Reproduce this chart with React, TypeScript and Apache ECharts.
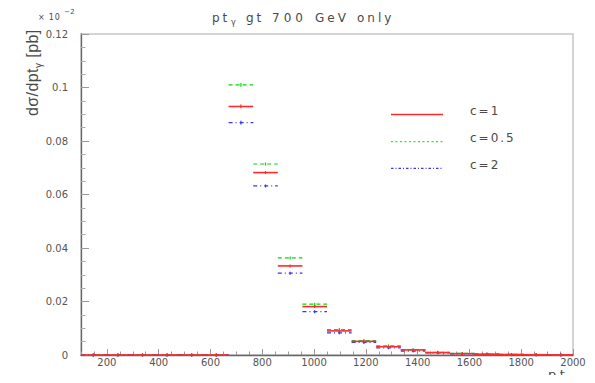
import React, { useEffect, useRef } from "react";
import * as echarts from "echarts";

// Histogram bins: lower edges (GeV), every bin is 95 GeV wide
const binLow = [100, 195, 290, 385, 480, 575, 670, 765, 860, 955, 1050, 1145, 1240, 1335, 1430, 1525, 1620, 1715, 1810, 1905];
const binWidth = 95;

// dσ/dpt_γ [pb] (×10^-2) for the three scale choices
const c1Values = [0, 0, 0, 0, 0, 0, 0.0929, 0.0682, 0.0333, 0.0181, 0.009, 0.0051, 0.0031, 0.0019, 0.0009, 0.0005, 0.0003, 0.0002, 0.0001, 0.00005];
const c05Values = [0, 0, 0, 0, 0, 0, 0.101, 0.0714, 0.0363, 0.019, 0.0095, 0.0054, 0.0034, 0.002, 0.001, 0.0006, 0.0003, 0.0002, 0.0001, 0.00006];
const c2Values = [0, 0, 0, 0, 0, 0, 0.0869, 0.0632, 0.0306, 0.0162, 0.0083, 0.0047, 0.0027, 0.0015, 0.0008, 0.0004, 0.0003, 0.0001, 0.0001, 0.00004];

// statistical errors
const c1Errors = [0, 0, 0, 0, 0, 0, 0.0007, 0.0005, 0.0003, 0.0002, 0.00015, 0.0001, 0.0001, 0.00005, 0.00004, 0.00003, 0.00002, 0.00002, 0.00001, 0.00001];
const c05Errors = [0, 0, 0, 0, 0, 0, 0.0007, 0.0005, 0.0003, 0.0002, 0.00015, 0.0001, 0.0001, 0.00005, 0.00004, 0.00003, 0.00002, 0.00002, 0.00001, 0.00001];
const c2Errors = [0, 0, 0, 0, 0, 0, 0.0007, 0.0005, 0.0003, 0.0002, 0.00015, 0.0001, 0.0001, 0.00005, 0.00004, 0.00003, 0.00002, 0.00002, 0.00001, 0.00001];

const xTickValues = [200, 400, 600, 800, 1000, 1200, 1400, 1600, 1800, 2000];
const legendLabels = ["c=1", "c=0.5", "c=2"];

const RED = "#ff2a2a";
const GREEN = "#00dd00";
const BLUE = "#3535ff";
const TEXT = "#4a4a4a";
const DEJAVU = "'DejaVu Sans'";
const LIB = "'Liberation Sans'";

let measureCtx: CanvasRenderingContext2D | null = null;
function textWidth(s: string, font: string): number {
  if (!measureCtx) measureCtx = document.createElement("canvas").getContext("2d");
  if (!measureCtx) return s.length * 7;
  measureCtx.font = font;
  return measureCtx.measureText(s).width;
}

// Letter-spaced text, one element per glyph, placed on a baseline
function spaced(str: string, x0: number, base: number, size: number, family: string, spacing: number, fill: string) {
  const font = `${size}px ${family}`;
  const els: any[] = [];
  let x = x0;
  for (const ch of Array.from(str)) {
    if (ch !== " ") {
      els.push({
        type: "text",
        x,
        y: base - 0.346 * size,
        silent: true,
        style: { text: ch, font, fill, textAlign: "left", textVerticalAlign: "middle" },
      });
    }
    x += textWidth(ch, font) + spacing;
  }
  return { els, end: x - spacing };
}

function histSeries(name: string, values: number[], errors: number[], color: string, dash: number[] | null, width: number, z: number) {
  const data = binLow.map((lo, i) => [lo, lo + binWidth, values[i], errors[i]]);
  return {
    type: "custom",
    name,
    xAxisIndex: 0,
    yAxisIndex: 0,
    z,
    silent: true,
    data,
    encode: { x: [0, 1], y: 2 },
    renderItem: (_params: any, api: any) => {
      const lo = api.value(0);
      const hi = api.value(1);
      const v = api.value(2);
      const e = api.value(3);
      const mid = (lo + hi) / 2;
      const a = api.coord([lo, v]);
      const b = api.coord([hi, v]);
      const t = api.coord([mid, v + e]);
      const d = api.coord([mid, v - e]);
      const style: any = { stroke: color, lineWidth: width, fill: null };
      if (dash) style.lineDash = dash;
      return {
        type: "group",
        children: [
          { type: "line", shape: { x1: a[0], y1: a[1], x2: b[0], y2: b[1] }, style },
          {
            type: "line",
            shape: { x1: t[0], y1: Math.min(t[1], a[1] - 1.5), x2: d[0], y2: Math.max(d[1], a[1] + 1.5) },
            style: { stroke: color, lineWidth: 1.2 },
          },
        ],
      };
    },
  };
}

function buildGraphics() {
  const g: any[] = [];

  // title: pt_γ  gt 700 GeV only
  g.push(...spaced("pt", 212, 22, 12, DEJAVU, 3, TEXT).els);
  g.push(...spaced("γ", 231, 25, 8, DEJAVU, 0, TEXT).els);
  g.push(...spaced("gt", 246, 22, 12, DEJAVU, 3, TEXT).els);
  g.push(...spaced("700", 272, 22, 12, DEJAVU, 4, TEXT).els);
  g.push(...spaced("GeV", 315, 22, 12, DEJAVU, 3, TEXT).els);
  g.push(...spaced("only", 357, 22, 12, DEJAVU, 3, TEXT).els);

  // exponent of the y scale: × 10^-2
  g.push(...spaced("× 10", 38, 20, 8, DEJAVU, 0.8, TEXT).els);
  g.push(...spaced("−2", 64, 14.5, 7, DEJAVU, 0.5, TEXT).els);

  // y axis title, reading bottom to top
  const yl1 = spaced("dσ/dpt", 0, 0, 16, LIB, 0.4, TEXT);
  const yl2 = spaced("γ", yl1.end + 0.5, 3.5, 10, LIB, 0, TEXT);
  const yl3 = spaced(" [pb]", yl2.end + 0.5, 0, 16, LIB, 0.4, TEXT);
  g.push({
    type: "group",
    x: 38,
    y: 116,
    rotation: Math.PI / 2,
    children: [...yl1.els, ...yl2.els, ...yl3.els],
  });

  // x axis title
  const xl = spaced("pt", 548, 378.5, 13, DEJAVU, 3.5, TEXT);
  g.push(...xl.els);
  g.push(...spaced("γ", xl.end + 1.5, 381, 8, DEJAVU, 0, TEXT).els);

  // legend
  const rows = [
    { y: 114.5, color: RED, dash: null as number[] | null, width: 1.5 },
    { y: 141.7, color: GREEN, dash: [2, 2.5], width: 1 },
    { y: 168.3, color: BLUE, dash: [2.5, 2, 1, 2], width: 1.3 },
  ];
  rows.forEach((r, i) => {
    const style: any = { stroke: r.color, lineWidth: r.width };
    if (r.dash) style.lineDash = r.dash;
    g.push({ type: "line", silent: true, shape: { x1: 391, y1: r.y, x2: 443, y2: r.y }, style });
    g.push(...spaced(legendLabels[i], 470, r.y + 0.8, 12, DEJAVU, 2, TEXT).els);
  });
  return g;
}

export default function App() {
  const ref = useRef<HTMLDivElement>(null);

  useEffect(() => {
    if (!ref.current) return;
    const chart = echarts.init(ref.current, null, { renderer: "svg" });
    const axisLineStyle = { color: "#666", width: 1.3 };
    chart.setOption({
      animation: false,
      backgroundColor: "#ffffff",
      grid: {
        left: 81,
        right: 22,
        top: 34,
        bottom: 28,
        show: true,
        borderColor: "#c6c6c6",
        borderWidth: 1.5,
        backgroundColor: "transparent",
      },
      xAxis: [
        {
          // minor ticks every 50 GeV
          type: "value",
          min: 100,
          max: 2000,
          interval: 50,
          position: "bottom",
          axisLine: { show: true, lineStyle: axisLineStyle },
          axisTick: { show: true, inside: true, length: 3.5, lineStyle: { color: "#999", width: 1 } },
          axisLabel: { show: false },
          splitLine: { show: false },
        },
        {
          // labelled major ticks
          type: "value",
          min: 100,
          max: 2000,
          position: "bottom",
          offset: 0,
          axisLine: { show: false },
          axisTick: { show: true, inside: true, length: 6, customValues: xTickValues, lineStyle: { color: "#999", width: 1 } },
          axisLabel: {
            show: true,
            customValues: xTickValues,
            color: "#555",
            fontSize: 10,
            fontFamily: "DejaVu Sans",
            margin: 2,
            lineHeight: 11,
            formatter: (v: number) => String(v),
          },
          splitLine: { show: false },
        },
      ],
      yAxis: {
        type: "value",
        min: 0,
        max: 0.12,
        interval: 0.02,
        axisLine: { show: true, lineStyle: axisLineStyle },
        axisTick: { show: true, inside: true, length: 8, lineStyle: { color: "#999", width: 1 } },
        minorTick: { show: true, splitNumber: 4, length: 4.5, lineStyle: { color: "#aaa", width: 1 } },
        axisLabel: {
          color: "#555",
          fontSize: 10,
          fontFamily: "DejaVu Sans",
          margin: 13,
          formatter: (v: number) => String(+v.toFixed(3)),
        },
        splitLine: { show: false },
      },
      series: [
        histSeries("c=0.5", c05Values, c05Errors, GREEN, [4, 3], 1.2, 2),
        histSeries("c=2", c2Values, c2Errors, BLUE, [4, 3, 1, 3], 1.3, 3),
        histSeries("c=1", c1Values, c1Errors, RED, null, 1.6, 4),
      ],
      graphic: buildGraphics(),
    });
    return () => chart.dispose();
  }, []);

  return <div ref={ref} style={{ width: 595, height: 383, margin: -8 }} />;
}
